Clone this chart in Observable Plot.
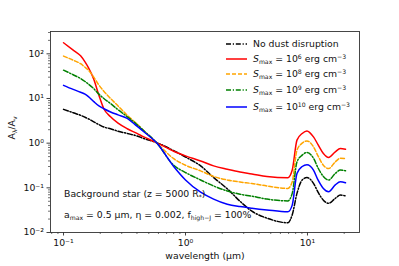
<!DOCTYPE html>
<html><head><meta charset="utf-8">
<script src="https://cdn.jsdelivr.net/npm/d3@7"></script>
<script src="https://cdn.jsdelivr.net/npm/@observablehq/plot@0.6"></script>
<style>
body{margin:0;background:#fff;font-family:"DejaVu Sans",sans-serif;}
#wrap{position:relative;width:399px;height:266px;overflow:hidden;background:#fff;}
#wrap > svg{position:absolute;left:0;top:0;}
.ov{position:absolute;white-space:nowrap;font-size:9.3px;color:#111;line-height:1;}
.ov sub,.ov sup{font-size:66%;line-height:0;}
.ov sub{vertical-align:-0.25em;}
.ov sup{vertical-align:0.55em;}
.lg{display:flex;align-items:center;}
.lg svg{margin-right:6px;}
</style></head>
<body><div id="wrap"></div>
<script>
// wavelength grid (micron)
const lambda = [0.1, 0.12, 0.138, 0.15, 0.16, 0.177, 0.195, 0.214, 0.243, 0.28, 0.333, 0.4, 0.455, 0.578, 0.8, 1.0, 1.33, 1.7, 2.2, 2.8, 3.5, 4.65, 6.9, 7.5, 8.2, 9.05, 9.9, 11.2, 12.2, 13.5, 14.9, 16.9, 18.6, 20.5];
const noDisruption = [5.7, 4.8, 4.2, 3.8, 3.5, 3.0, 2.6, 2.3, 2.1, 1.85, 1.65, 1.45, 1.27, 1.03, 0.68, 0.49, 0.31, 0.17, 0.095, 0.05, 0.03, 0.021, 0.0165, 0.025, 0.075, 0.15, 0.17, 0.126, 0.08, 0.053, 0.045, 0.058, 0.069, 0.066];
const smax1e6 = [177, 121, 90, 66, 49, 27, 11.8, 5.9, 3.9, 2.8, 2.1, 1.65, 1.38, 1.03, 0.66, 0.52, 0.40, 0.31, 0.26, 0.225, 0.205, 0.18, 0.168, 0.25, 1.17, 1.65, 1.88, 1.38, 0.93, 0.59, 0.48, 0.64, 0.76, 0.73];
const smax1e8 = [89, 72, 60, 50, 43, 30, 20, 14.5, 10, 6.8, 4.2, 2.7, 1.9, 1.03, 0.45, 0.32, 0.24, 0.18, 0.15, 0.135, 0.125, 0.11, 0.097, 0.137, 0.70, 1.0, 1.12, 0.83, 0.52, 0.32, 0.27, 0.38, 0.46, 0.45];
const smax1e9 = [43, 34, 28, 24, 21, 16.6, 12.5, 10, 7.7, 5.6, 3.9, 2.6, 1.9, 1.03, 0.32, 0.22, 0.15, 0.11, 0.085, 0.072, 0.065, 0.056, 0.051, 0.075, 0.38, 0.54, 0.62, 0.46, 0.28, 0.18, 0.15, 0.21, 0.25, 0.24];
const smax1e10 = [19.7, 16, 13.8, 12.5, 11, 8.5, 6.8, 5.9, 5.0, 4.3, 3.6, 2.4, 1.8, 1.03, 0.30, 0.15, 0.08, 0.056, 0.043, 0.038, 0.035, 0.032, 0.029, 0.041, 0.21, 0.30, 0.33, 0.25, 0.15, 0.097, 0.082, 0.116, 0.137, 0.13];

const seriesLabels = [
  "No dust disruption",
  "<i>S</i><sub>max</sub> = 10<sup>6</sup> erg cm<sup>−3</sup>",
  "<i>S</i><sub>max</sub> = 10<sup>8</sup> erg cm<sup>−3</sup>",
  "<i>S</i><sub>max</sub> = 10<sup>9</sup> erg cm<sup>−3</sup>",
  "<i>S</i><sub>max</sub> = 10<sup>10</sup> erg cm<sup>−3</sup>"
];
const seriesValues = [noDisruption, smax1e6, smax1e8, smax1e9, smax1e10];
const seriesColors = ["#000000", "#ff0000", "#ffa500", "#008000", "#0000ff"];
const seriesDash = ["5,1.8,1.2,1.8", null, "4,2", "5,1.8,1.2,1.8", null];

const xTicks = [0.1, 1, 10];
const yTicks = [0.01, 0.1, 1, 10, 100];

const supMap = {"-":"⁻","0":"⁰","1":"¹","2":"²","3":"³","4":"⁴","5":"⁵","6":"⁶","7":"⁷","8":"⁸","9":"⁹"};
const fmt = d => "10" + String(Math.round(Math.log10(d))).split("").map(c => supMap[c]).join("");

const xDomain = [0.0782, 26.7];
const yDomain = [0.01, 316];
const minor = (lo, hi) => {
  const out = [];
  for (let e = Math.floor(Math.log10(lo)); e <= Math.ceil(Math.log10(hi)); e++)
    for (let k = 2; k <= 9; k++) { const v = k * Math.pow(10, e); if (v >= lo && v <= hi) out.push(v); }
  return out;
};

const marks = [];
seriesValues.forEach((vals, i) => {
  const rows = lambda.map((l, j) => ({l, v: vals[j]}));
  marks.push(Plot.line(rows, {x: "l", y: "v", stroke: seriesColors[i], strokeWidth: 1.5,
    strokeDasharray: seriesDash[i] || undefined, curve: "monotone-x"}));
});
marks.push(Plot.axisX(minor(...xDomain), {tickSize: 2, tickFormat: () => "", strokeWidth: 0.6, label: null}));
marks.push(Plot.axisY(minor(...yDomain), {tickSize: 2, tickFormat: () => "", strokeWidth: 0.6, label: null}));
marks.push(Plot.axisX(xTicks, {tickSize: 3.5, tickPadding: 3, tickFormat: fmt, strokeWidth: 0.8, label: null, fontSize: 9.3}));
marks.push(Plot.axisY(yTicks, {tickSize: 3.5, tickPadding: 3, tickFormat: fmt, strokeWidth: 0.8, label: null, fontSize: 9.3}));
marks.push(Plot.frame({stroke: "#333", strokeWidth: 0.9}));

const chart = Plot.plot({
  width: 399, height: 266,
  marginLeft: 50, marginRight: 40, marginTop: 31, marginBottom: 34,
  x: {type: "log", domain: xDomain},
  y: {type: "log", domain: yDomain},
  style: {fontFamily: "DejaVu Sans", fontSize: "9.3px", color: "#111", background: "white"},
  marks
});
const wrap = document.getElementById("wrap");
wrap.appendChild(chart);

function ov(html, css) {
  const d = document.createElement("div");
  d.className = "ov";
  d.innerHTML = html;
  Object.assign(d.style, css);
  wrap.appendChild(d);
  return d;
}
// legend
const legendTops = [38.5, 53.5, 69, 84.5, 101.5];
seriesLabels.forEach((lab, i) => {
  const dash = seriesDash[i] ? `stroke-dasharray="${seriesDash[i]}"` : "";
  ov(`<svg width="21" height="10"><line x1="0" y1="5" x2="21" y2="5" stroke="${seriesColors[i]}" stroke-width="1.5" ${dash}/></svg><span>${lab}</span>`,
     {left: "226px", top: legendTops[i] + "px", display: "flex", alignItems: "center"}).classList.add("lg");
});
// annotations
ov("Background star (z = 5000 R<sub>*</sub>)", {left: "64px", top: "189px"});
ov("a<sub>max</sub> = 0.5 μm, η = 0.002, f<sub>high−J</sub> = 100%", {left: "64px", top: "210px"});
// axis titles
ov("wavelength (μm)", {left: "205px", top: "251px", transform: "translateX(-50%)"});
ov("A<sub>λ</sub>/A<sub>v</sub>", {left: "12px", top: "128px", transform: "translate(-50%,-50%) rotate(-90deg)"});
</script></body></html>
